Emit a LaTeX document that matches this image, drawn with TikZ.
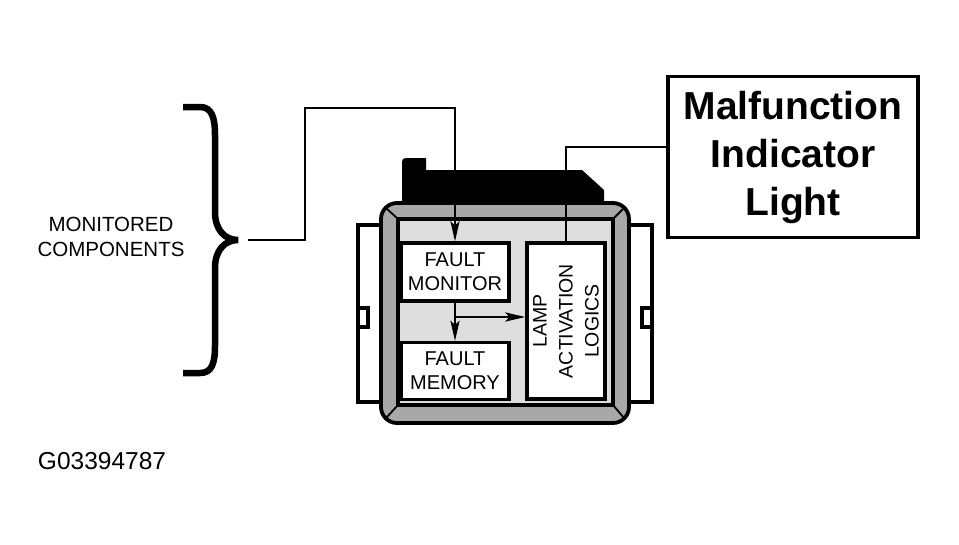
\documentclass[tikz,border=0pt]{standalone}
\usepackage{fontspec}
\setmainfont{Liberation Sans}
\usetikzlibrary{arrows.meta}
\definecolor{ringgray}{gray}{0.66}
\definecolor{bodygray}{gray}{0.87}
\tikzset{
	blk/.style={draw, line width=3.2pt, fill=white, inner sep=0pt, align=center},
	wire/.style={line width=2.6pt},
	tip/.style={-{Stealth[length=20pt,width=9pt,inset=4pt]}},
	part/.style={draw, line width=3.2pt, fill=white}
}
\begin{document}
\begin{tikzpicture}[x=1pt,y=-1pt]
		\useasboundingbox (0,0) rectangle (959,544);
		% brace and its label
		\draw[line width=6.5pt] (183,107) -- (200,107) .. controls (212,107) and (215,118) .. (215,135) -- (215,212) .. controls (215,230) and (225,240) .. (238,240) .. controls (225,240) and (215,250) .. (215,268) -- (215,346) .. controls (215,363) and (212,373) .. (200,373) -- (183,373);
		\node[align=center, font=\fontsize{20.5}{25}\selectfont] (moncomp) at (111,237) {MONITORED\\COMPONENTS};
		\node[font=\fontsize{24.5}{28}\selectfont] (figid) at (102,461) {G03394787};
		% module housing
		\draw[part] (358,225) rectangle (385,402) (358,308) rectangle (368,327);
		\draw[part] (626,225) rectangle (652,402) (642,308) rectangle (652,327);
		\draw[line width=3.8pt, fill=ringgray, rounded corners=16pt] (381,203) rectangle (629,423);
		\draw[line width=3.8pt, fill=bodygray] (398,219) rectangle (613,405);
		\draw[line width=1.8pt] (398,219) -- (386,208) (613,219) -- (624,208) (398,405) -- (386,418) (613,405) -- (624,418);
		\fill (402,204) -- (402,166) .. controls (402,158) .. (410,158) -- (426,158) -- (426,170) -- (582,170) -- (604,190) -- (604,204) -- cycle;
		% blocks
		\node[blk, minimum width=108pt, minimum height=58pt, font=\fontsize{20}{24}\selectfont] (fm) at (455,272) {FAULT\\MONITOR};
		\node[blk, minimum width=108pt, minimum height=57pt, font=\fontsize{20}{24}\selectfont] (mem) at (455,371) {FAULT\\MEMORY};
		\node[blk, minimum width=78pt, minimum height=156pt] (lamp) at (566,321) {};
		\node[rotate=90, align=center, font=\fontsize{19.5}{26}\selectfont] (lamptxt) at (lamp.center) {LAMP\\ACTIVATION\\LOGICS};
		\node[draw, line width=3.4pt, minimum width=250pt, minimum height=161pt, align=center, font=\fontsize{39}{48}\selectfont\bfseries] (mil) at (793,157) {Malfunction\\Indicator\\Light};
		% wiring
		\coordinate (bt) at (248,240);
		\coordinate (jog) at (305,108);
		\coordinate (split) at (455,317);
		\draw[wire, tip] (bt) -| (jog) -| (fm.north);
		\draw[wire, tip] (fm.south) -- (mem.north);
		\draw[wire, tip] (split) -- (split -| lamp.west);
		\draw[wire] (lamp.north) |- ([yshift=10pt]mil.west);
	\end{tikzpicture}
\end{document}
